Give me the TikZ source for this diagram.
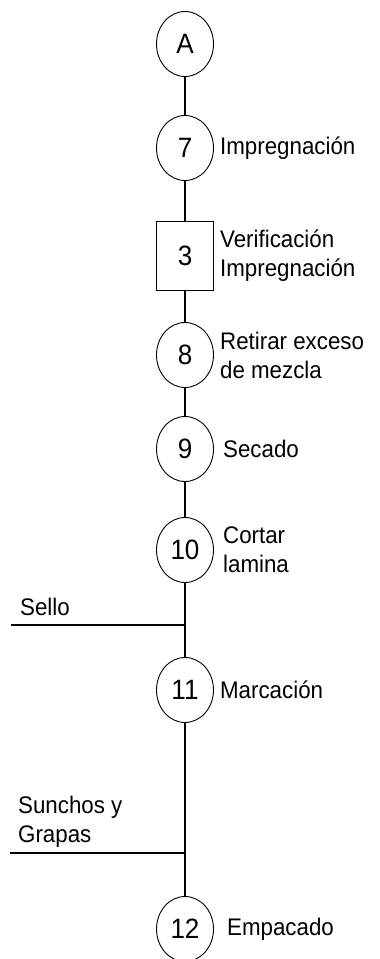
\documentclass[tikz,border=0pt]{standalone}
\usepackage{fontspec}
\setmainfont[FakeStretch=0.93]{Liberation Sans}
\usetikzlibrary{shapes.geometric,positioning}

\begin{document}
\begin{tikzpicture}[x=1pt, y=-1pt, font=\fontsize{24}{29}\selectfont,
    operacion/.style={ellipse, draw, line width=0.9pt, minimum width=57pt, minimum height=65pt, inner sep=0pt,
        font=\fontsize{28}{30}\selectfont},
    inspeccion/.style={rectangle, draw, line width=0.9pt, minimum width=57pt, minimum height=69pt, inner sep=0pt,
        font=\fontsize{28}{30}\selectfont},
    etiqueta/.style={align=left, inner sep=0pt},
    flujo/.style={line width=2pt}]

    \useasboundingbox (0,0) rectangle (380,959);

    % simbolos sobre el eje
    \node[operacion]  (nA)  at (185,44)  {A};
    \node[operacion]  (n7)  at (185,148) {7};
    \node[inspeccion] (n3)  at (185,256) {3};
    \node[operacion]  (n8)  at (185,355) {8};
    \node[operacion]  (n9)  at (185,449) {9};
    \node[operacion]  (n10) at (185,550) {10};
    \node[operacion]  (n11) at (185,690) {11};
    \node[operacion]  (n12) at (185,929) {12};

    % textos de cada paso
    \node[etiqueta, right=6pt of n7]  (t7)  {Impregnación};
    \node[etiqueta, right=6pt of n3]  (t3)  {Verificación\\Impregnación};
    \node[etiqueta, right=6pt of n8]  (t8)  {Retirar exceso\\de mezcla};
    \node[etiqueta, right=9pt of n9]  (t9)  {Secado};
    \node[etiqueta, right=9pt of n10] (t10) {Cortar\\lamina};
    \node[etiqueta, right=6pt of n11] (t11) {Marcación};
    \node[etiqueta, right=13pt of n12] (t12) {Empacado};

    % entradas de material
    \coordinate (jSello)  at (185,625);
    \coordinate (sello)   at (11,625);
    \coordinate (jGrapas) at (185,853);
    \coordinate (grapas)  at (10,853);
    \node[etiqueta, anchor=west] (tSello)  at (20,607) {Sello};
    \node[etiqueta, anchor=west] (tGrapas) at (18,822) {Sunchos y\\Grapas};

    \draw[flujo] (nA) -- (n7);
    \draw[flujo] (n7) -- (n3);
    \draw[flujo] (n3) -- (n8);
    \draw[flujo] (n8) -- (n9);
    \draw[flujo] (n9) -- (n10);
    \draw[flujo] (n10) -- (jSello) -- (n11);
    \draw[flujo] (n11) -- (jGrapas) -- (n12);
    \draw[flujo] (sello) -- (jSello);
    \draw[flujo] (grapas) -- (jGrapas);

\end{tikzpicture}
\end{document}
